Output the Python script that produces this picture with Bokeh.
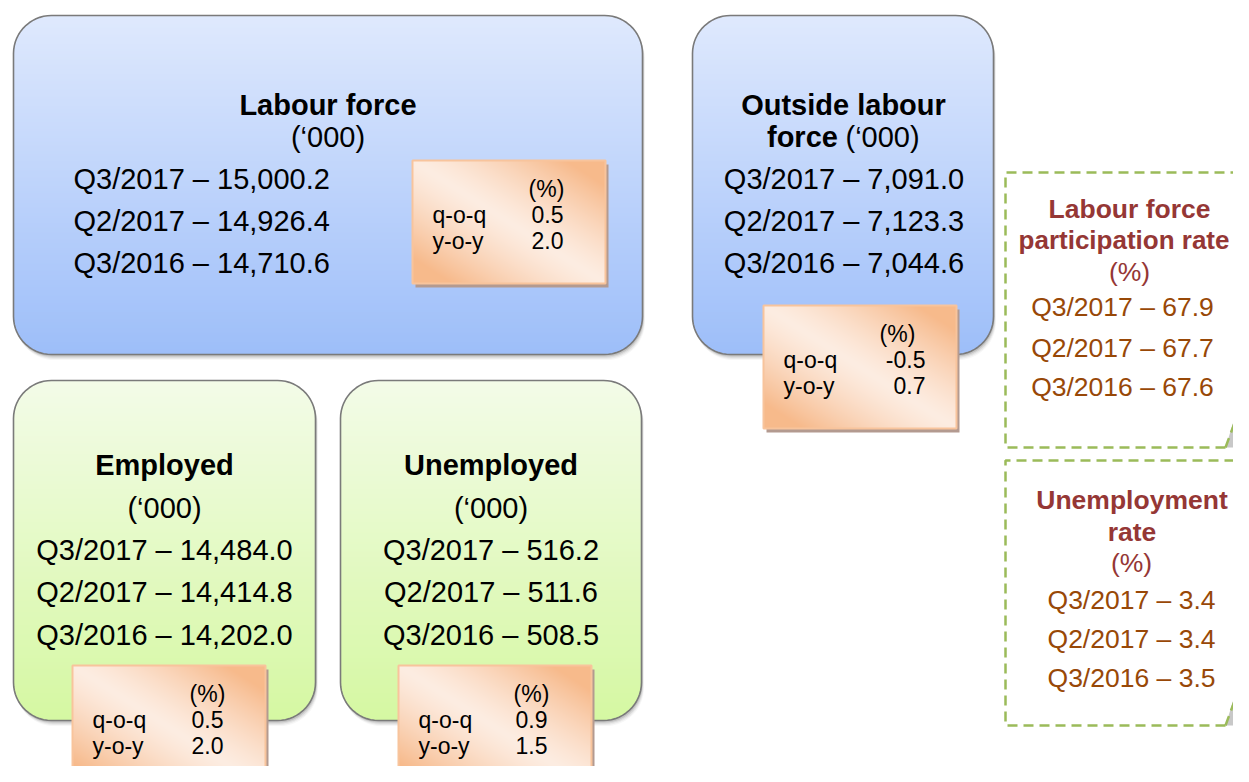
import numpy as np
from bokeh.plotting import figure
from bokeh.models import Range1d, ColumnDataSource
from bokeh.core.properties import value
from bokeh.embed import file_html
from bokeh.resources import INLINE

# ---------------- data ----------------
periods = ["Q3/2017", "Q2/2017", "Q3/2016"]
labour_force = [15000.2, 14926.4, 14710.6]
outside_labour_force = [7091.0, 7123.3, 7044.6]
employed = [14484.0, 14414.8, 14202.0]
unemployed = [516.2, 511.6, 508.5]
participation_rate = [67.9, 67.7, 67.6]
unemployment_rate = [3.4, 3.4, 3.5]
change_labels = ["q-o-q", "y-o-y"]
labour_force_change = [0.5, 2.0]
outside_change = [-0.5, 0.7]
employed_change = [0.5, 2.0]
unemployed_change = [0.9, 1.5]

FONT = value("Liberation Sans")
DASH = "\u2013"

W, H = 1233, 766
p = figure(width=W, height=H, x_range=Range1d(0, W), y_range=Range1d(-H, 0),
           output_backend="svg", toolbar_location=None, min_border=0)
p.axis.visible = False
p.grid.visible = False
p.outline_line_color = None
p.background_fill_color = "white"
p.border_fill_color = "white"


def lerp(c0, c1, t):
    return tuple(int(round(a + (b - a) * t)) for a, b in zip(c0, c1))


def hexc(c):
    return "#%02x%02x%02x" % c


def rr_outline(x0, y0, x1, y1, r, n=16):
    xs, ys = [], []
    corners = [((x0 + r, y0 + r), 180, 270), ((x1 - r, y0 + r), 270, 360),
               ((x1 - r, y1 - r), 0, 90), ((x0 + r, y1 - r), 90, 180)]
    for (cx, cy), a0, a1 in corners:
        for a in np.linspace(np.radians(a0), np.radians(a1), n):
            xs.append(cx + r * np.cos(a))
            ys.append(-(cy + r * np.sin(a)))
    return xs, ys


def extents(x0, y0, x1, y1, r, y):
    if y < y0 + r:
        dy = y0 + r - y
    elif y > y1 - r:
        dy = y - (y1 - r)
    else:
        return x0, x1
    dy = min(dy, r)
    dx = r - np.sqrt(max(r * r - dy * dy, 0))
    return x0 + dx, x1 - dx


def rounded_box(x0, y0, x1, y1, r, top, bottom):
    # soft shadow
    for i, a in enumerate([0.10, 0.07, 0.05, 0.03]):
        xs, ys = rr_outline(x0 + 1 + i * 0.5, y0 + 2 + i * 1.2, x1 + 1 + i * 0.5, y1 + 2 + i * 1.2, r)
        p.patch(xs, ys, fill_color="black", fill_alpha=a, line_color=None)
    # vertical gradient fill in strips
    sx, sy, cols = [], [], []
    step = 2.0
    ya = y0
    while ya < y1:
        yb = min(ya + step + 0.7, y1)
        la, ra = extents(x0, y0, x1, y1, r, ya)
        lb, rb = extents(x0, y0, x1, y1, r, yb)
        sx.append([la, ra, rb, lb])
        sy.append([-ya, -ya, -yb, -yb])
        cols.append(hexc(lerp(top, bottom, ((ya + yb) / 2 - y0) / (y1 - y0))))
        ya += step
    p.patches(sx, sy, fill_color=cols, line_color=None)
    xs, ys = rr_outline(x0, y0, x1, y1, r)
    p.patch(xs, ys, fill_color=None, line_color="#7a7a7a", line_width=1.6)


def orange_box(x0, y0, x1, y1):
    w, h = int(x1 - x0), int(y1 - y0)
    # hard shadow
    p.quad(left=x0 + 3, right=x1 + 3, top=-(y0 + 4), bottom=-(y1 + 4),
           fill_color="#b39a90", line_color=None)
    light = (253, 237, 226)
    orange = (247, 186, 139)
    img = np.empty((h, w), dtype=np.uint32)
    view = img.view(dtype=np.uint8).reshape((h, w, 4))
    xx = (np.arange(w) + 0.5) / w
    vv = 1.0 - (np.arange(h) + 0.5) / h  # row 0 is bottom
    U, V = np.meshgrid(xx, vv)
    d = np.clip(np.abs(U - V) * 1.25, 0, 1) ** 1.3
    for k in range(3):
        view[:, :, k] = (light[k] + (orange[k] - light[k]) * d).astype(np.uint8)
    view[:, :, 3] = 255
    p.image_rgba(image=[img], x=x0, y=-y1, dw=w, dh=h)
    p.quad(left=x0, right=x1, top=-y0, bottom=-y1, fill_color=None,
           line_color="#f8c49c", line_width=2)


def txt(x, y, texts, size, color="black", bold=False, align="center"):
    if isinstance(y, (int, float)):
        y = [y] * len(texts)
    if isinstance(x, (int, float)):
        x = [x] * len(texts)
    src = ColumnDataSource(dict(x=x, y=[-v for v in y], t=texts))
    p.text(x="x", y="y", text="t", source=src, text_font=FONT, text_font_size=size,
           text_color=color, text_font_style="bold" if bold else "normal",
           text_align=align, text_baseline="middle")


def fmt(v):
    return f"{v:,.1f}"


def rows(vals, f=fmt):
    return [f"{q} {DASH} {f(v)}" for q, v in zip(periods, vals)]


BLUE_T, BLUE_B = (223, 233, 253), (157, 190, 249)
GREEN_T, GREEN_B = (243, 251, 232), (213, 248, 162)

rounded_box(13, 15, 642, 354, 38, BLUE_T, BLUE_B)
rounded_box(692, 15, 993, 354, 38, BLUE_T, BLUE_B)
rounded_box(13, 380, 315, 720, 38, GREEN_T, GREEN_B)
rounded_box(340, 380, 641, 720, 38, GREEN_T, GREEN_B)

# Labour force
txt(327.5, 104, ["Labour force"], "29px", bold=True)
txt(327.5, 136, ["(\u2018000)"], "29px")
txt(73, [178, 220, 262], rows(labour_force), "29px", align="left")

# Outside labour force
txt(843, 104, ["Outside labour"], "29px", bold=True)
txt(766.5, 136, ["force"], "29px", bold=True, align="left")
txt(845, 136, ["(\u2018000)"], "29px", align="left")
txt(843.5, [178, 220, 262], rows(outside_labour_force), "29px")

# Employed / Unemployed
txt(164, 464, ["Employed"], "29px", bold=True)
txt(164, 507, ["(\u2018000)"], "29px")
txt(164, [549, 591, 634], rows(employed), "29px")
txt(490.5, 464, ["Unemployed"], "29px", bold=True)
txt(490.5, 507, ["(\u2018000)"], "29px")
txt(490.5, [549, 591, 634], rows(unemployed), "29px")


def change_box(x0, y0, vals, pct_x, val_x, vals_align="center"):
    orange_box(x0, y0, x0 + 193, y0 + 123)
    txt(pct_x, y0 + 28, ["(%)"], "23px")
    txt(x0 + 20, [y0 + 54, y0 + 80], change_labels, "23px", align="left")
    txt(val_x, [y0 + 54, y0 + 80], [f"{v:.1f}" for v in vals], "23px", align=vals_align)


change_box(412, 160, labour_force_change, 546, 547)
change_box(763, 305, outside_change, 897, 925, vals_align="right")
change_box(72, 665, employed_change, 207, 207)
change_box(398, 665, unemployed_change, 531, 531)

# Dashed rate boxes
GREEN_D = "#9bbb59"


def dashed_box(x0, y0, y1):
    p.patch([1225 + 0, 1234, 1249, 1249], [-(y1), -(y1 - 29), -(y1 - 31), -(y1)],
            fill_color="#c8c8c8", line_color=None)
    p.line([1225, x0, x0, 1260], [-y1, -y1, -y0, -y0], line_color=GREEN_D, line_width=2.5,
           line_dash="10 6")
    p.line([1225, 1236, 1250], [-y1, -(y1 - 30), -(y1 - 32)], line_color=GREEN_D, line_width=2.5,
           line_dash="10 6")


dashed_box(1005, 172, 447)
dashed_box(1005, 460, 725)

RED = "#953735"
BROWN = "#984807"
txt(1129, 208, ["Labour force"], "26.5px", color=RED, bold=True)
txt(1123.5, 239, ["participation rate"], "26px", color=RED, bold=True)
txt(1129, 271, ["(%)"], "26.5px", color=RED)
txt(1122, [306, 347, 386], rows(participation_rate, lambda v: f"{v:.1f}"), "26.5px", color=BROWN)

txt(1131.5, 499, ["Unemployment"], "26.5px", color=RED, bold=True)
txt(1131.5, 531, ["rate"], "26.5px", color=RED, bold=True)
txt(1131, 562, ["(%)"], "26.5px", color=RED)
txt(1131, [599, 638, 677], rows(unemployment_rate, lambda v: f"{v:.1f}"), "26.5px", color=BROWN)

open("out.html", "w").write(file_html(p, INLINE))
